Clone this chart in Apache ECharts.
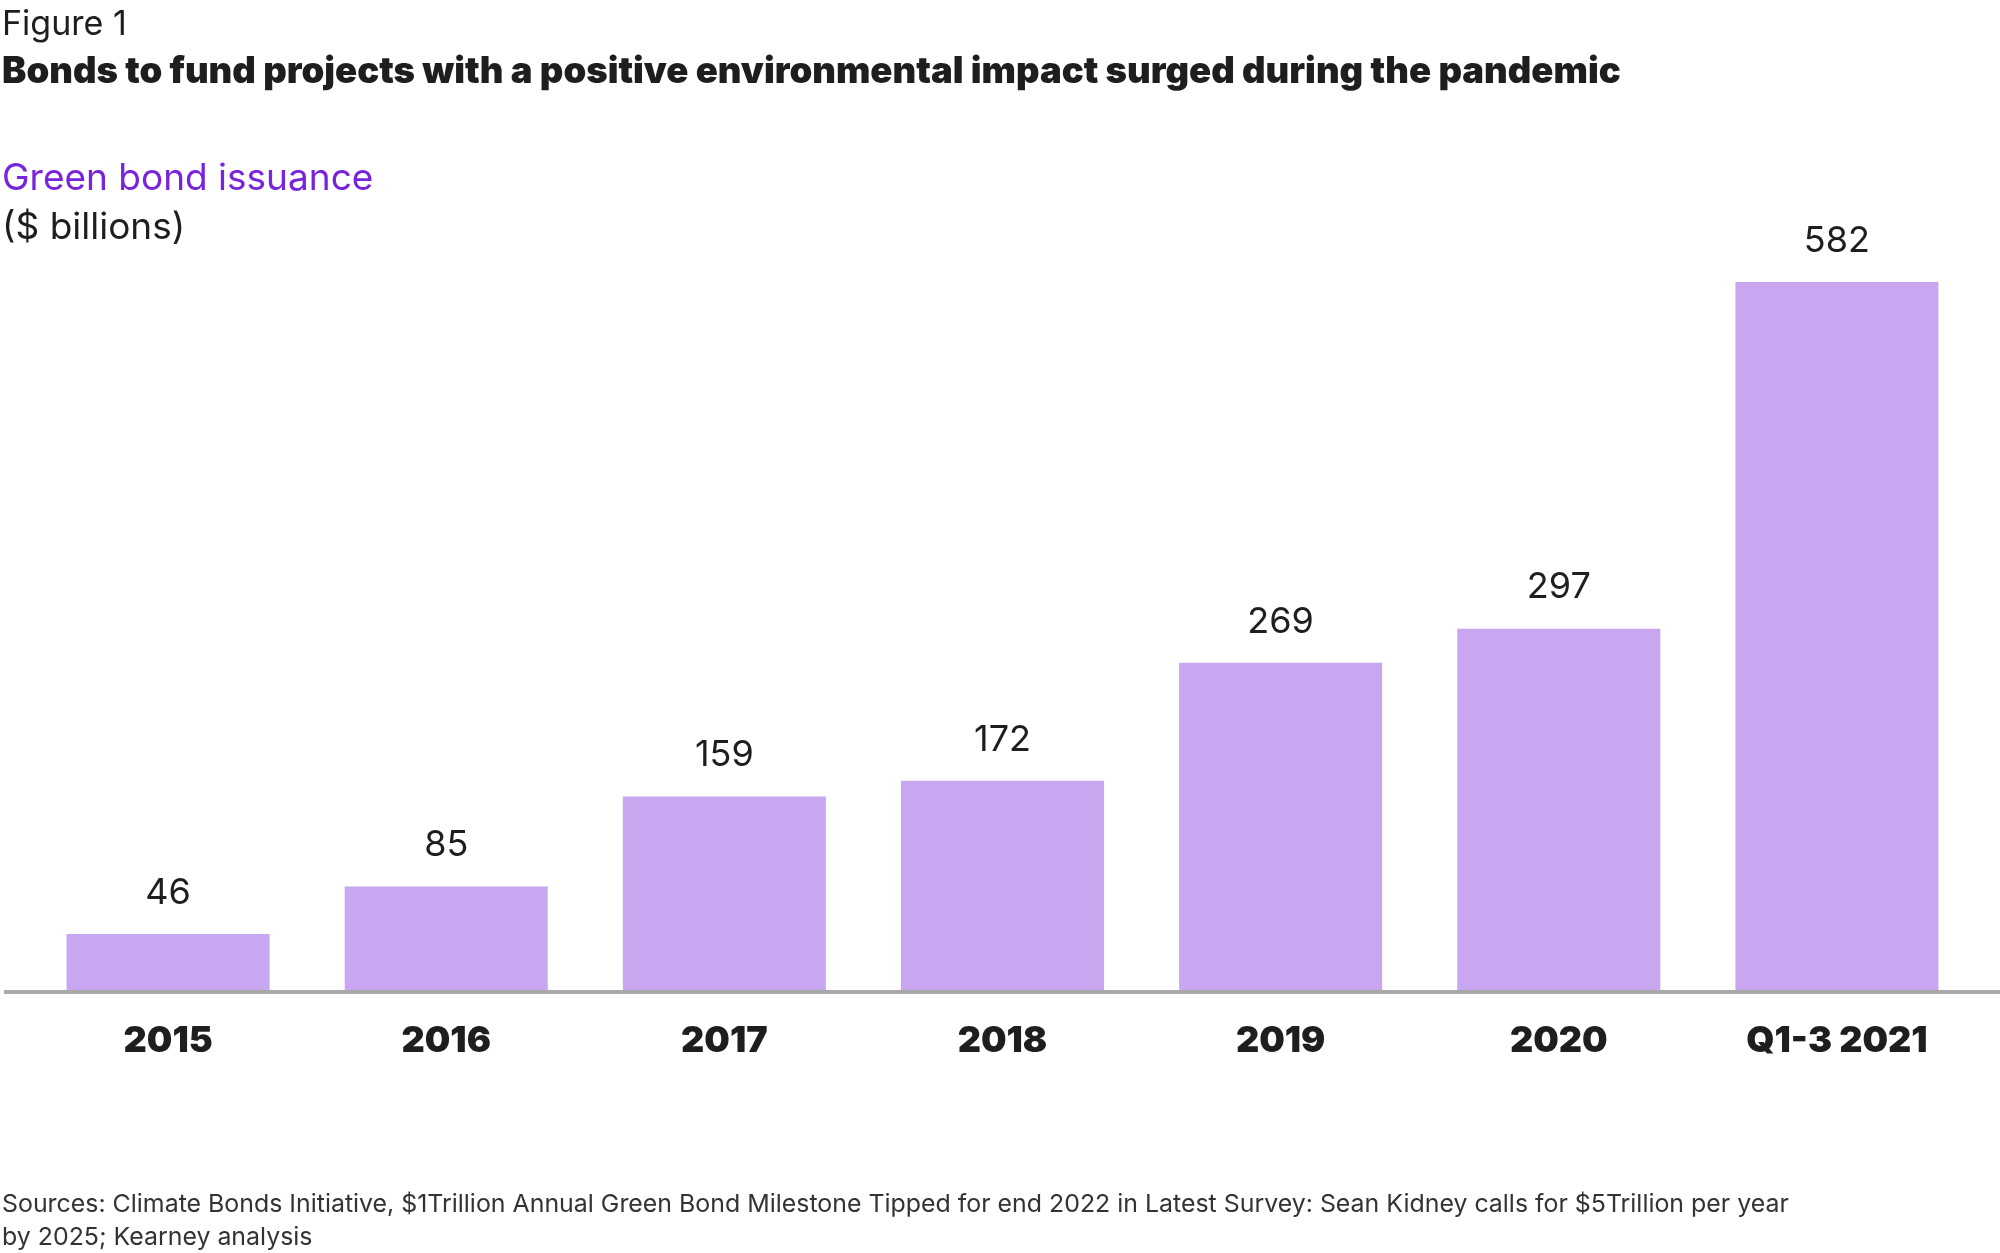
<!DOCTYPE html>
<html>
<head>
<meta charset="utf-8">
<script src="https://cdn.jsdelivr.net/npm/echarts@6/dist/echarts.min.js"></script>
<style>
html,body{margin:0;padding:0;background:#fff;}
#c{width:2000px;height:1253px;}
</style>
</head>
<body>
<div id="c"></div>
<script>
const categories = ["2015", "2016", "2017", "2018", "2019", "2020", "Q1-3 2021"];
const issuance = [46, 85, 159, 172, 269, 297, 582];
const figureLabel = "Figure 1";
const titleText = "Bonds to fund projects with a positive environmental impact surged during the pandemic";
const seriesName = "Green bond issuance";
const unitText = "($ billions)";
const sourceText = "Sources: Climate Bonds Initiative, $1Trillion Annual Green Bond Milestone Tipped for end 2022 in Latest Survey: Sean Kidney calls for $5Trillion per year\nby 2025; Kearney analysis";

const FONT = "Inter, 'Noto Sans', sans-serif";
const chart = echarts.init(document.getElementById('c'), null, {renderer: 'canvas'});

const option = {
  backgroundColor: '#ffffff',
  animation: false,
  title: [
    {text: figureLabel, left: 2, top: 8, padding: 0, textStyle: {fontFamily: FONT, fontSize: 34, fontWeight: 'normal', color: '#1e1e1e'}},
    {text: titleText, left: 2, top: 54, padding: 0, textStyle: {fontFamily: FONT, fontSize: 36.5, fontWeight: 900, color: '#1e1e1e'}},
    {text: seriesName, left: 2, top: 160, padding: 0, textStyle: {fontFamily: FONT, fontSize: 37, fontWeight: 'normal', color: '#7823DC'}},
    {text: unitText, left: 2, top: 209, padding: 0, textStyle: {fontFamily: FONT, fontSize: 37, fontWeight: 'normal', color: '#1e1e1e'}},
    {text: sourceText, left: 2, top: 1188, padding: 0, textStyle: {fontFamily: FONT, fontSize: 24.9, fontWeight: 'normal', color: '#333333', lineHeight: 33}}
  ],
  grid: {left: 29, right: 24, top: 260, bottom: 263, containLabel: false},
  xAxis: {
    type: 'category',
    data: categories,
    axisLine: {show: false},
    axisTick: {show: false},
    axisLabel: {fontFamily: FONT, fontSize: 36, fontWeight: 900, color: '#1e1e1e', margin: 33}
  },
  yAxis: {
    type: 'value',
    min: 0,
    max: 600,
    show: false,
    splitLine: {show: false}
  },
  series: [{
    name: seriesName,
    type: 'bar',
    data: issuance,
    barCategoryGap: '27%',
    itemStyle: {color: '#c8a6f0'},
    label: {show: true, position: 'top', distance: 23, fontFamily: FONT, fontSize: 36, color: '#1e1e1e'}
  }]
};
chart.setOption(option);

const yBase = chart.convertToPixel({yAxisIndex: 0}, 0);
chart.setOption({
  graphic: [{
    type: 'line',
    shape: {x1: 4, y1: yBase + 2, x2: 2000, y2: yBase + 2},
    style: {stroke: '#a9a9a9', lineWidth: 4},
    z: 10
  }]
});
</script>
</body>
</html>
